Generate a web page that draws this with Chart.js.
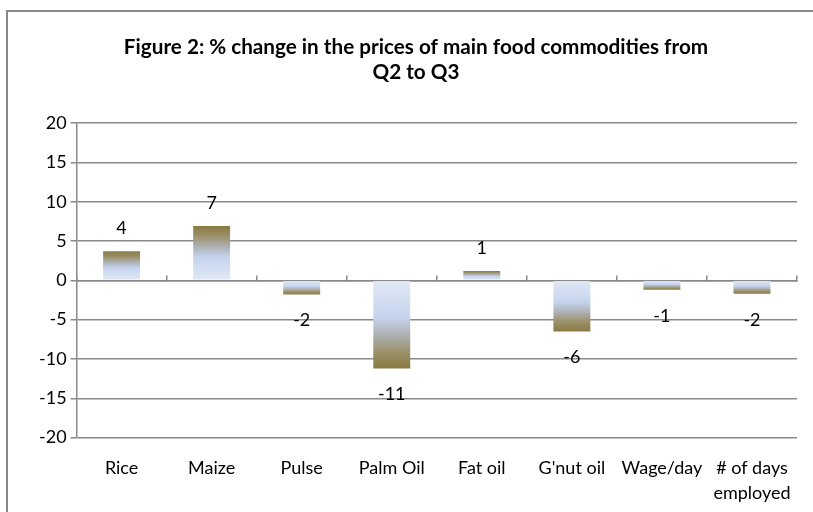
<!DOCTYPE html>
<html>
<head>
<meta charset="utf-8">
<script src="https://cdn.jsdelivr.net/npm/chart.js@4"></script>
<style>
  body { margin: 0; background: #fff; }
  #wrap { position: relative; width: 813px; height: 512px; }
  #frame { position: absolute; left: 6px; top: 10px; width: 807px; height: 502px;
           border-left: 2px solid #898989; border-top: 2px solid #898989; box-sizing: border-box; }
  #c { position: absolute; left: 0; top: 0; }
</style>
</head>
<body>
<div id="wrap">
  <div id="frame"></div>
  <canvas id="c" width="813" height="512"></canvas>
</div>
<script>
const categories = ["Rice", "Maize", "Pulse", "Palm Oil", "Fat oil", "G'nut oil", "Wage/day", ["# of days", "employed"]];
const cambios = [3.7, 6.9, -1.8, -11.2, 1.2, -6.5, -1.2, -1.7];
const yTicks = [-20, -15, -10, -5, 0, 5, 10, 15, 20];

const fuente = "Lato, 'Open Sans', sans-serif";
const gris = "#898989";

//Degradado por barra, desde el cero hasta el valor
function degradado(ctx) {
  const chart = ctx.chart;
  if (!chart.chartArea) return "#c6d5ef";
  const y = chart.scales.y;
  const p0 = y.getPixelForValue(0);
  const p1 = y.getPixelForValue(ctx.raw);
  if (p0 === p1) return "#c6d5ef";
  const g = chart.ctx.createLinearGradient(0, p0, 0, p1);
  g.addColorStop(0, "#e2e8f5");
  g.addColorStop(0.42, "#c5d4ee");
  g.addColorStop(0.62, "#aeb1b4");
  g.addColorStop(0.82, "#9a8f66");
  g.addColorStop(1, "#8a7b44");
  return g;
}

//Etiquetas de datos
const etiquetas = {
  id: "etiquetas",
  afterDatasetsDraw(chart) {
    const meta = chart.getDatasetMeta(0);
    const y = chart.scales.y;
    const c = chart.ctx;
    c.save();
    c.font = "18px " + fuente;
    c.fillStyle = "#000";
    c.textAlign = "center";
    c.textBaseline = "middle";
    meta.data.forEach((bar, i) => {
      const v = cambios[i];
      const py = y.getPixelForValue(v) + (v >= 0 ? -23 : 26);
      c.fillText(String(Math.round(v)), bar.x, py);
    });
    c.restore();
  }
};

new Chart("c", {
  type: "bar",
  data: {
    labels: categories,
    datasets: [{
      data: cambios,
      backgroundColor: degradado,
      borderWidth: 0,
      barPercentage: 0.41,
      categoryPercentage: 1
    }]
  },
  options: {
    responsive: false,
    animation: false,
    layout: { padding: { left: 35, right: 16, top: 0, bottom: -4 } },
    plugins: {
      legend: { display: false },
      tooltip: { enabled: false },
      title: {
        display: true,
        text: ["Figure 2: % change in the prices of main food commodities from", "Q2 to Q3"],
        color: "#000",
        font: { family: fuente, size: 20.7, weight: "bold", lineHeight: 1.21 },
        padding: { top: 35, bottom: 38 }
      }
    },
    scales: {
      x: {
        grid: { display: false },
        border: { display: false },
        ticks: { color: "#000", font: { family: fuente, size: 18, lineHeight: 1.4 }, padding: 10, maxRotation: 0, autoSkip: false }
      },
      x2: {
        type: "category",
        labels: categories,
        position: { y: 0 },
        offset: true,
        grid: { offset: true, drawOnChartArea: false, drawTicks: true, tickLength: -6, color: gris, lineWidth: 1.5 },
        border: { display: true, color: gris, width: 1.5 },
        ticks: { display: false }
      },
      y: {
        min: -20,
        max: 20,
        afterBuildTicks: (s) => { s.ticks = yTicks.map((v) => ({ value: v })); },
        grid: { color: gris, lineWidth: 1.5, tickLength: 6 },
        border: { color: gris, width: 1.5 },
        ticks: { color: "#000", font: { family: fuente, size: 18 }, padding: 4 }
      }
    }
  },
  plugins: [etiquetas]
});
</script>
</body>
</html>
